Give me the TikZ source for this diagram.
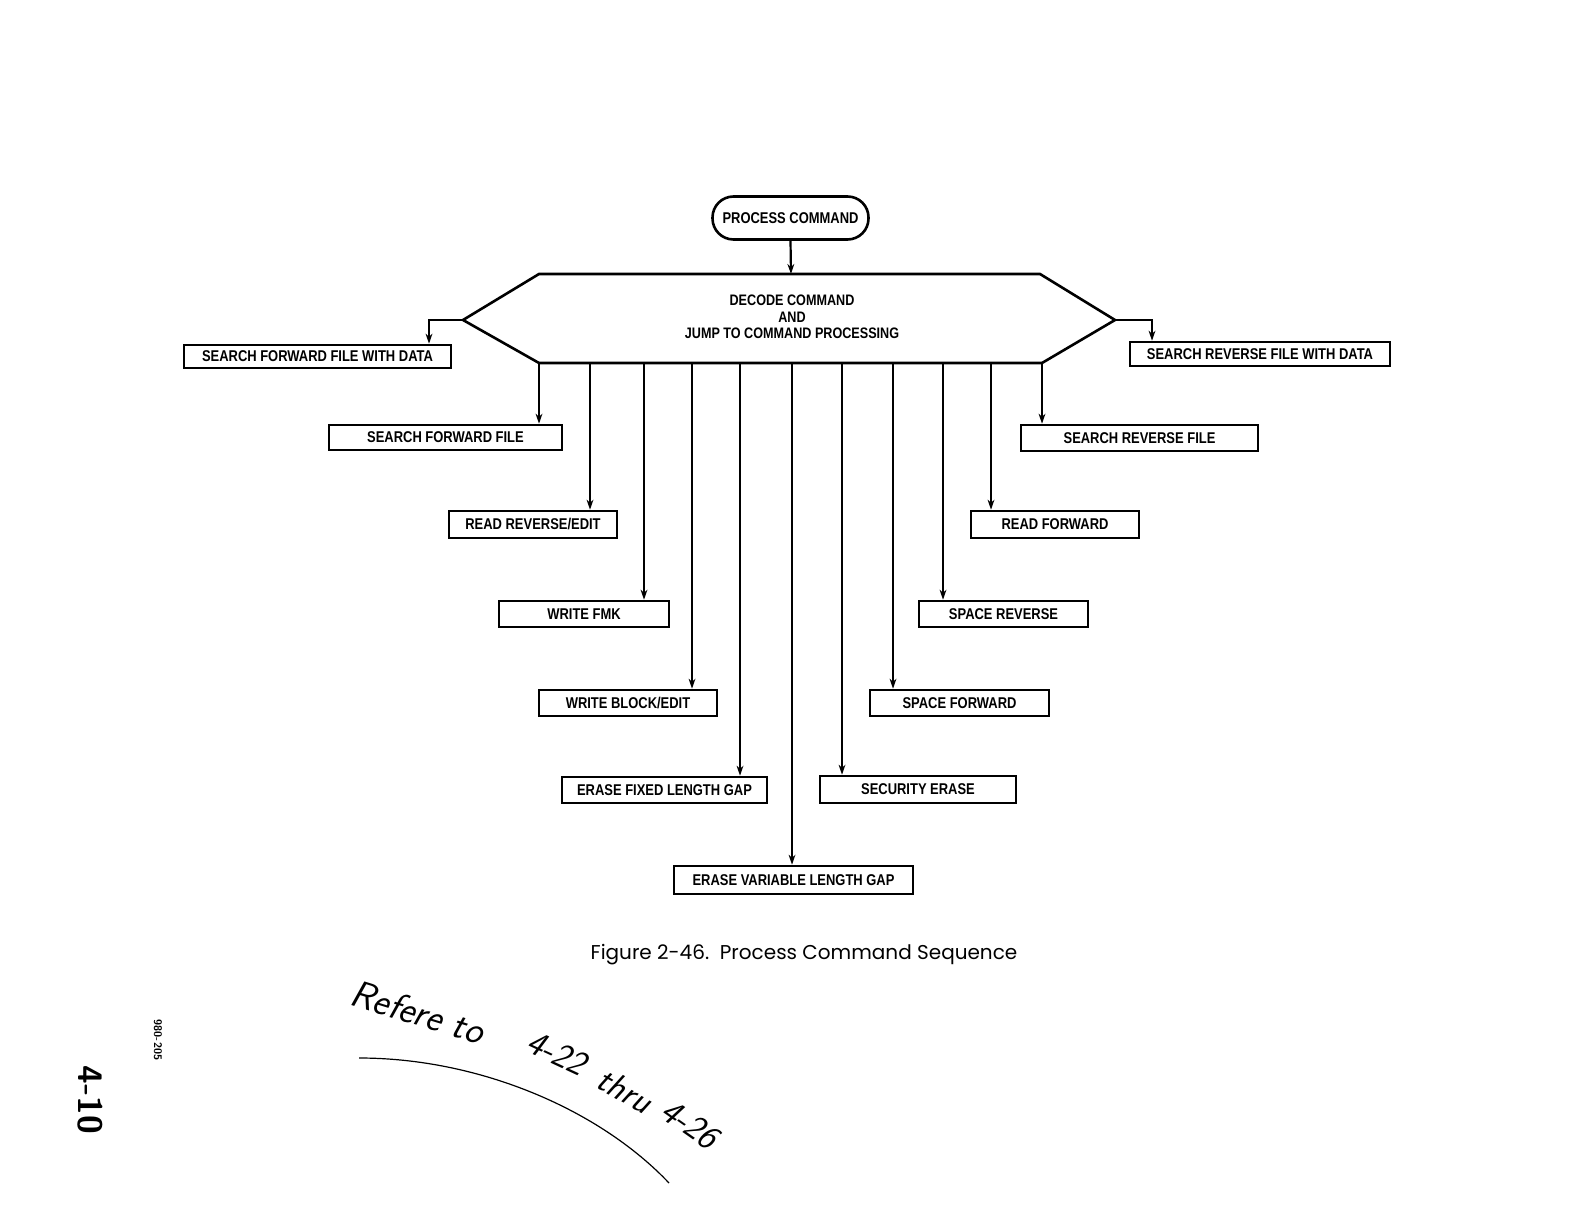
\documentclass[tikz,border=0pt]{standalone}
\usepackage{fontspec}
\usetikzlibrary{arrows.meta}
\newfontfamily\boxfont[FakeStretch=0.83]{Liberation Sans}
\newfontfamily\capfont{Poppins}
\begin{document}
\begin{tikzpicture}[x=0.5pt,y=-0.5pt,
  every node/.style={inner sep=0pt},
  bx/.style={draw, line width=1.3pt, font=\boxfont\bfseries\fontsize{7.8}{8.5}\selectfont, align=center},
  arr/.style={line width=1.1pt, -{Stealth[length=5pt,width=3.4pt]}},
  hand/.style={font=\sffamily\itshape\fontsize{17.5}{20}\selectfont}]
\useasboundingbox (0,0) rectangle (1578,1224);
\fill[white] (0,0) rectangle (1578,1224);

% start node
\node[bx, rounded corners=10.5pt, minimum width=78pt, minimum height=21.5pt] (pc) at (790.5,218) {PROCESS COMMAND};

% hexagon
\coordinate (htl) at (539,274);
\coordinate (htr) at (1040,274);
\coordinate (hr) at (1115,320);
\coordinate (hbr) at (1042,363);
\coordinate (hbl) at (539,363);
\coordinate (hl) at (463,320);
\draw[line width=1.3pt, line join=miter] (htl) -- (htr) -- (hr) -- (hbr) -- (hbl) -- (hl) -- cycle;
\node[font=\boxfont\bfseries\fontsize{7.6}{8.25}\selectfont, align=center] (dec) at (792,317) {DECODE COMMAND\\AND\\JUMP TO COMMAND PROCESSING};
\coordinate (ht) at (791,274);
\draw[arr] (pc.south) -- (ht);

% boxes
\node[bx, minimum width=133.5pt, minimum height=11.5pt] (sffwd) at (317.5,356.5) {SEARCH FORWARD FILE WITH DATA};
\node[bx, minimum width=116.5pt, minimum height=12.5pt] (sff) at (445.5,437.5) {SEARCH FORWARD FILE};
\node[bx, minimum width=84pt, minimum height=13.5pt] (rre) at (533,524.5) {READ REVERSE/EDIT};
\node[bx, minimum width=85pt, minimum height=13pt] (wfmk) at (584,614) {WRITE FMK};
\node[bx, minimum width=89pt, minimum height=13pt] (wbe) at (628,703) {WRITE BLOCK/EDIT};
\node[bx, minimum width=102.5pt, minimum height=13pt] (eflg) at (664.5,790) {ERASE FIXED LENGTH GAP};
\node[bx, minimum width=119.5pt, minimum height=14pt] (evlg) at (793.5,880) {ERASE VARIABLE LENGTH GAP};
\node[bx, minimum width=98pt, minimum height=13.5pt] (se) at (918,789.5) {SECURITY ERASE};
\node[bx, minimum width=89.5pt, minimum height=13pt] (spf) at (959.5,703) {SPACE FORWARD};
\node[bx, minimum width=84.5pt, minimum height=13pt] (spr) at (1003.5,614) {SPACE REVERSE};
\node[bx, minimum width=84pt, minimum height=13.5pt] (rf) at (1055,524.5) {READ FORWARD};
\node[bx, minimum width=118.5pt, minimum height=13pt] (srf) at (1139.5,438) {SEARCH REVERSE FILE};
\node[bx, minimum width=130pt, minimum height=12pt] (srfwd) at (1260,354) {SEARCH REVERSE FILE WITH DATA};

% side branches
\coordinate (lb) at (429,320);
\coordinate (rb) at (1152,320);
\draw[arr] (hl) -- (lb) -- (lb |- sffwd.north);
\draw[arr] (hr) -- (rb) -- (rb |- srfwd.north);

% drops from bottom edge
\coordinate (d1) at (539,363);
\coordinate (d2) at (590,363);
\coordinate (d3) at (644,363);
\coordinate (d4) at (692,363);
\coordinate (d5) at (740,363);
\coordinate (d6) at (792,363);
\coordinate (d7) at (842,363);
\coordinate (d8) at (893,363);
\coordinate (d9) at (943,363);
\coordinate (d10) at (991,363);
\coordinate (d11) at (1042,363);
\draw[arr] (d1) -- (d1 |- sff.north);
\draw[arr] (d2) -- (d2 |- rre.north);
\draw[arr] (d3) -- (d3 |- wfmk.north);
\draw[arr] (d4) -- (d4 |- wbe.north);
\draw[arr] (d5) -- (d5 |- eflg.north);
\draw[arr] (d6) -- (d6 |- evlg.north);
\draw[arr] (d7) -- (d7 |- se.north);
\draw[arr] (d8) -- (d8 |- spf.north);
\draw[arr] (d9) -- (d9 |- spr.north);
\draw[arr] (d10) -- (d10 |- rf.north);
\draw[arr] (d11) -- (d11 |- srf.north);

% caption
\node[font=\capfont\fontsize{10}{12}\selectfont] (cap) at (804,955) {Figure 2-46.\ \ Process Command Sequence};

% handwritten notes
\node[hand, font=\sffamily\itshape\fontsize{19}{20}\selectfont, rotate=-17] (hw1) at (418,1012) {Refere to};
\node[hand, rotate=-25] (hw2) at (557,1053) {4-22};
\node[hand, rotate=-30] (hw3) at (625,1090) {thru};
\node[hand, rotate=-35] (hw4) at (690,1124) {4-26};
\coordinate (c1) at (359,1058);
\coordinate (c2) at (669,1183);
\draw[line width=0.6pt] (c1) .. controls (480,1058) and (600,1110) .. (c2);
\node[font=\sffamily\bfseries\fontsize{17}{20}\selectfont, rotate=-90] (pg) at (90,1100) {4-10};
\node[font=\sffamily\bfseries\fontsize{5.5}{6}\selectfont, rotate=-90] (code) at (158,1040) {980-205};
\end{tikzpicture}
\end{document}
